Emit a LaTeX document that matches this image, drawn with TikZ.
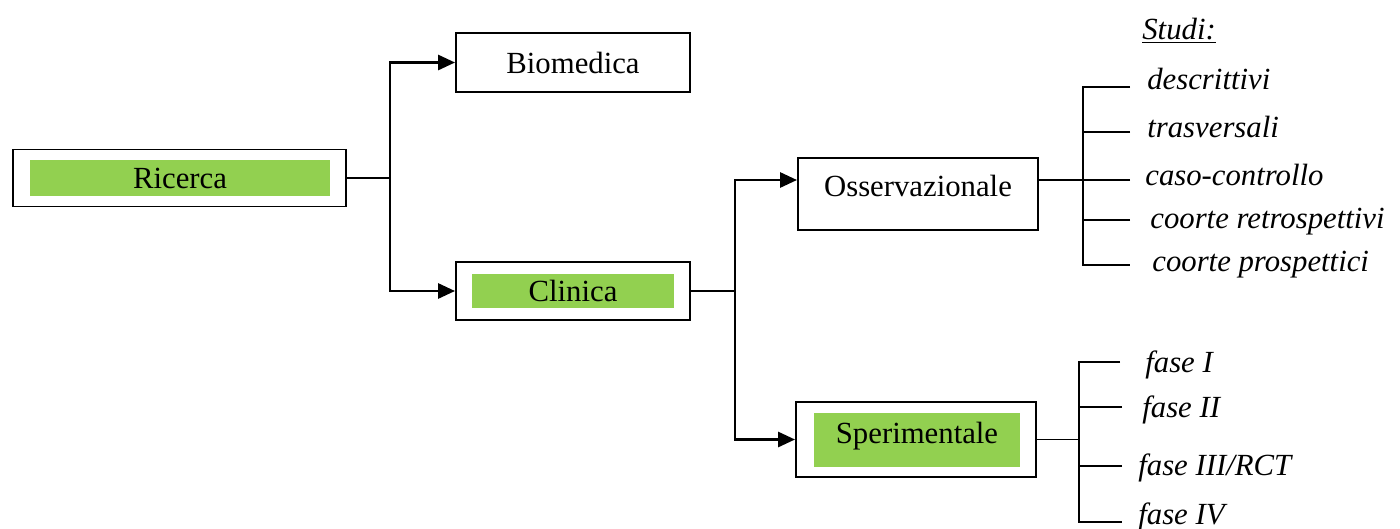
\documentclass[tikz,border=0pt]{standalone}
\usepackage{fontspec}
\setmainfont{Liberation Serif}
\usetikzlibrary{arrows.meta}
\definecolor{officegreen}{HTML}{92D050}
\begin{document}
\begin{tikzpicture}[x=0.02cm, y=-0.02cm,
        box/.style={rectangle, draw, line width=1.1pt, align=center, font=\fontsize{17.5}{20}\selectfont},
        bar/.style={rectangle, fill=officegreen, inner sep=0pt, font=\fontsize{17.5}{20}\selectfont},
        link/.style={line width=1.1pt},
        arr/.style={line width=1.6pt, -{Triangle[length=0.34cm, width=0.3cm]}},
        study/.style={anchor=base west, inner sep=0pt, font=\fontsize{17.5}{20}\selectfont\itshape}
    ]
        \useasboundingbox (0,0) rectangle (1400,528);

        \node[box, minimum width=6.66cm, minimum height=1.14cm] (ricerca) at (179.5,178) {};
        \node[bar, minimum width=6cm, minimum height=0.72cm] (ricercaBar) at (180,178) {Ricerca};
        \node[box, minimum width=4.68cm, minimum height=1.18cm] (biomedica) at (573,62.5) {Biomedica};
        \node[box, minimum width=4.68cm, minimum height=1.16cm] (clinica) at (573,291) {};
        \node[bar, minimum width=4.04cm, minimum height=0.68cm] (clinicaBar) at (573,291) {Clinica};
        \node[box, minimum width=4.8cm, minimum height=1.44cm, text depth=0.34cm] (osserv) at (918,194) {Osservazionale};
        \node[box, minimum width=4.8cm, minimum height=1.5cm] (speriment) at (916,439.5) {};
        \node[bar, minimum width=4.12cm, minimum height=1.08cm, text depth=0.3cm] (sperimentBar) at (917,440) {Sperimentale};

        \coordinate (jr) at (390,178);
        \coordinate (jc) at (735,291);
        \coordinate (jo) at (1083,180);
        \coordinate (js) at (1079,439.5);

        \draw[link] (ricerca.east) -- (jr);
        \draw[arr] (jr) |- (biomedica.west);
        \draw[arr] (jr) |- (clinica.west);
        \draw[link] (clinica.east) -- (jc);
        \draw[arr] (jc) |- ([yshift=0.28cm]osserv.west);
        \draw[arr] (jc) |- (speriment.west);
        \draw[link] ([yshift=0.28cm]osserv.east) -- (jo);
        \draw[link] (speriment.east) -- (js);

        \node[study] (studi) at (1142,39) {\underline{Studi:}};

        \foreach \name/\x/\y/\txt in {descr/1147/89/descrittivi, trasv/1147/137/trasversali,
                caso/1145/185/caso-controllo, retro/1150/228/coorte retrospettivi,
                prosp/1152/271/coorte prospettici, fase1/1145/372/fase I, fase2/1142/417/fase II,
                fase3/1138/475/{fase III/RCT}, fase4/1138/524/fase IV}
            \node[study] (\name) at (\x,\y) {\txt};

        \foreach \n/\x/\y in {o1/1130/87, o2/1130/132, o3/1130/180, o4/1130/220, o5/1130/265,
                f1/1120/362, f2/1122/407, f3/1122/466, f4/1122/522}
            \coordinate (\n) at (\x,\y);

        \draw[link] (o1) -| (jo) |- (o5);
        \draw[link] (o2) -- (o2 -| jo);
        \draw[link] (o3) -- (jo);
        \draw[link] (o4) -- (o4 -| jo);
        \draw[link] (f1) -| (js) |- (f4);
        \draw[link] (f2) -- (f2 -| js);
        \draw[link] (f3) -- (f3 -| js);
    \end{tikzpicture}
\end{document}
